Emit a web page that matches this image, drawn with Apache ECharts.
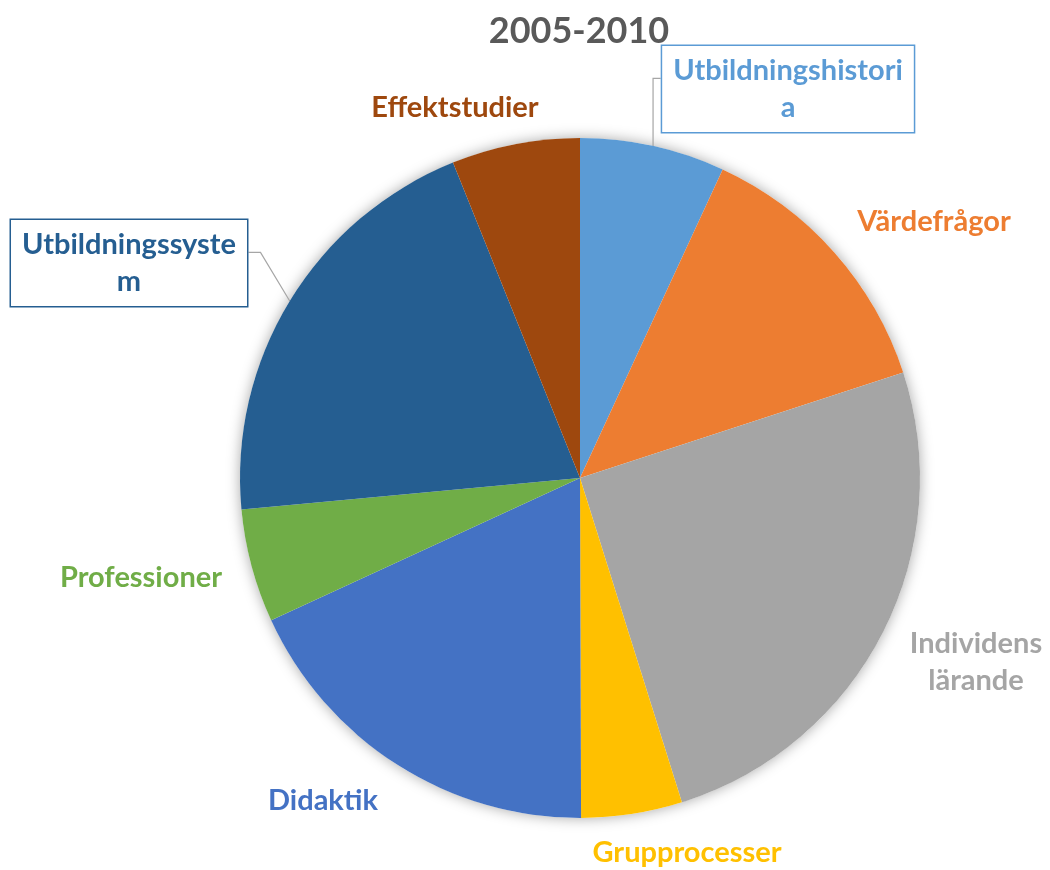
<!DOCTYPE html>
<html>
<head>
<meta charset="utf-8">
<script src="https://cdn.jsdelivr.net/npm/echarts@6/dist/echarts.min.js"></script>
<style>html,body{margin:0;padding:0;background:#fff}#c{width:1050px;height:870px}</style>
</head>
<body>
<div id="c"></div>
<script>
// Data
const categories = ['Utbildningshistoria','Värdefrågor','Individens lärande','Grupprocesser','Didaktik','Professioner','Utbildningssystem','Effektstudier'];
const values = [6.9, 13.1, 25.2, 4.8, 18.2, 5.4, 20.4, 6.1];
const labelTexts = ['Utbildningshistori\na','Värdefrågor','Individens\nlärande','Grupprocesser','Didaktik','Professioner','Utbildningssyste\nm','Effektstudier'];
const colors = ['#5B9BD5','#ED7D31','#A5A5A5','#FFC000','#4472C4','#70AD47','#255E91','#9E480E'];
const titleText = '2005-2010';

// Label placement (layout only)
const labelPlace = [[788,89],[934,222],[976,662],[687,853],[323,801],[141,578],[129,263],[455,108]];
const boxed = [true,false,false,false,false,false,true,false];

const FONT = 'Lato';
const chart = echarts.init(document.getElementById('c'));
const data = categories.map((n,i)=>{
  const d = {
    name: n, value: values[i],
    itemStyle: {color: colors[i]},
    label: {color: colors[i]},
    labelLine: {show: boxed[i], lineStyle:{color:'#A6A6A6', width:1.2}}
  };
  if (boxed[i]) {
    d.label.backgroundColor = '#fff';
    d.label.borderColor = colors[i];
    d.label.borderWidth = 1.5;
    d.label.padding = [6, 11, 6, 11];
  }
  return d;
});
chart.setOption({
  animation: false,
  backgroundColor: '#fff',
  title: {
    text: titleText, left: 574, top: 8, textAlign: 'center',
    textStyle: {fontFamily: FONT, fontWeight: 'bold', fontSize: 36, color: '#595959'}
  },
  series: [
    {
      type: 'pie', silent: true, center: [580, 478], radius: 340,
      label: {show: false}, labelLine: {show: false},
      itemStyle: {color: '#fff', shadowBlur: 14, shadowColor: 'rgba(0,0,0,0.35)'},
      data: [{value: 1}], z: 1
    },
    {
      type: 'pie', center: [580, 478], radius: 340, startAngle: 90, clockwise: true,
      avoidLabelOverlap: false, z: 2,
      itemStyle: {borderWidth: 0},
      label: {
        show: true, position: 'outside', fontFamily: FONT, fontWeight: 'bold', fontSize: 29,
        lineHeight: 37, align: 'center',
        formatter: p => labelTexts[p.dataIndex]
      },
      labelLine: {length: 10, length2: 10},
      labelLayout: p => {
        const i = p.dataIndex;
        const x = labelPlace[i][0], y = labelPlace[i][1];
        const out = {x: x, y: y, align: 'center', verticalAlign: 'middle'};
        if (boxed[i] && p.labelLinePoints) {
          const p0 = p.labelLinePoints[0];
          const w = p.labelRect.width, h = p.labelRect.height;
          const yl = y - h * 0.12;
          if (x > p0[0]) {
            const left = x - w / 2;
            out.labelLinePoints = [p0, [p0[0], yl], [left, yl]];
          } else {
            const right = x + w / 2;
            out.labelLinePoints = [p0, [right + 12, yl], [right, yl]];
          }
        }
        return out;
      },
      data: data
    }
  ]
});
</script>
</body>
</html>
